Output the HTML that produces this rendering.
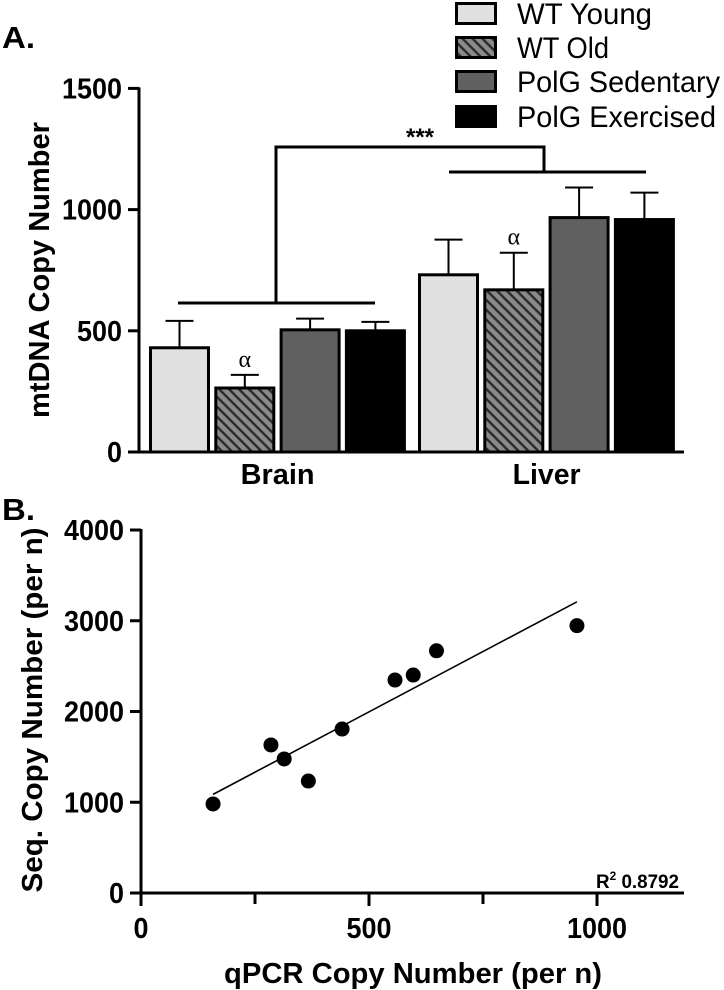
<!DOCTYPE html>
<html><head><meta charset="utf-8"><style>
html,body{margin:0;padding:0;background:#fff;}
svg{display:block;font-family:"Liberation Sans",sans-serif;}
</style></head><body>
<svg width="724" height="990">
<defs>
<pattern id="hatch" patternUnits="userSpaceOnUse" width="7" height="7" patternTransform="rotate(45)">
<rect width="7" height="7" fill="#8a8a8a"/><rect width="7" height="2.4" fill="#2a2a2a"/>
</pattern>
</defs>
<g id="panelA"></g>
<g id="panelB"></g>
</svg>
<script>
const groups = ["Brain","Liver"];
const seriesNames = ["WT Young","WT Old","PolG Sedentary","PolG Exercised"];
const brainMeans = [430,264,504,500];
const brainErr = [111,54,46,37];
const liverMeans = [731,669,967,959];
const liverErr = [145,153,124,111];
const yTicksA = [0,500,1000,1500];

const qpcr = [158,285,314,367,441,557,597,648,956];
const seqCopy = [981,1631,1477,1234,1807,2347,2402,2669,2946];
const xTicksB = [0,500,1000];
const yTicksB = [0,1000,2000,3000,4000];
const r2Label = "0.8792";

const NS="http://www.w3.org/2000/svg";
function mk(parent,tag,attrs,text){const e=document.createElementNS(NS,tag);for(const k in attrs)e.setAttribute(k,attrs[k]);if(text!==undefined)e.textContent=text;parent.appendChild(e);return e;}

// ---------- Panel A ----------
const A=document.getElementById('panelA');
const yA=v=>452-(v/500)*121.2;
const fills=["#e0e0e0","url(#hatch)","#606060","#000"];
const barW=61, step=65.3, groupStart=[149,418];
let t;
t=mk(A,'text',{x:2,y:48,'font-size':31,'font-weight':'bold',textLength:33,lengthAdjust:'spacingAndGlyphs'},'A.');

t=mk(A,'line',{x1:139,y1:yA(1500)-1,x2:139,y2:453.5,stroke:'#000','stroke-width':3});

t=mk(A,'line',{x1:137.5,y1:452,x2:684,y2:452,stroke:'#000','stroke-width':3});

yTicksA.forEach(v=>{
  let l=mk(A,'line',{x1:128,y1:yA(v),x2:139,y2:yA(v),stroke:'#000','stroke-width':3});
  
  const s=String(v);
  let tx=mk(A,'text',{x:122,y:yA(v)+10,'font-size':29,'font-weight':'bold','text-anchor':'end',textLength:s.length*15,lengthAdjust:'spacingAndGlyphs'},s);
  
});
t=mk(A,'text',{x:0,y:0,'font-size':29,'font-weight':'bold','text-anchor':'middle',transform:'translate(49,270) rotate(-90)',textLength:296,lengthAdjust:'spacingAndGlyphs'},'mtDNA Copy Number');

const means=[brainMeans,liverMeans], errs=[brainErr,liverErr];
groups.forEach((g,gi)=>{
  means[gi].forEach((m,i)=>{
    const x=groupStart[gi]+i*step;
    const e=errs[gi][i];
    let el=mk(A,'line',{x1:x+barW/2,y1:yA(m),x2:x+barW/2,y2:yA(m+e),stroke:'#000','stroke-width':2});
    
    el=mk(A,'line',{x1:x+barW/2-14,y1:yA(m+e),x2:x+barW/2+14,y2:yA(m+e),stroke:'#000','stroke-width':2});
    
    const r=mk(A,'rect',{x:x+1.5,y:yA(m),width:barW-3,height:452-yA(m),fill:fills[i],stroke:'#000','stroke-width':3});
    
    if(i===1){
      let a=mk(A,'text',{x:x+barW/2,y:yA(m+e)-8,'font-size':24,'text-anchor':'middle','font-family':'Liberation Serif, serif'},'α');
      
    }
  });
  let gl=mk(A,'text',{x:groupStart[gi]+2*step-2,y:484,'font-size':29,'font-weight':'bold','text-anchor':'middle',textLength:g==='Brain'?74:68,lengthAdjust:'spacingAndGlyphs'},g);
  
});
t=mk(A,'line',{x1:178,y1:303,x2:375,y2:303,stroke:'#000','stroke-width':3});

t=mk(A,'line',{x1:449,y1:172,x2:646,y2:172,stroke:'#000','stroke-width':3});

t=mk(A,'polyline',{points:'276,303 276,147 544,147 544,172',fill:'none',stroke:'#000','stroke-width':3});

t=mk(A,'text',{x:420,y:145,'font-size':24,'font-weight':'bold','text-anchor':'middle'},'***');

const legY=[2,36,70,105];
seriesNames.forEach((n,i)=>{
  let r=mk(A,'rect',{x:456.5,y:legY[i]+1.5,width:39,height:20,fill:fills[i],stroke:'#000','stroke-width':3});
  
  let tx=mk(A,'text',{x:517,y:legY[i]+22,'font-size':30,textLength:[135,92,203,199][i],lengthAdjust:'spacingAndGlyphs'},n);
  
});

// ---------- Panel B ----------
const B=document.getElementById('panelB');
const xB=v=>141+(v/500)*228;
const yB=v=>893-(v/1000)*90.75;
t=mk(B,'text',{x:2,y:520,'font-size':31,'font-weight':'bold',textLength:33,lengthAdjust:'spacingAndGlyphs'},'B.');

t=mk(B,'line',{x1:141,y1:yB(4000)-1,x2:141,y2:906,stroke:'#000','stroke-width':3});

t=mk(B,'line',{x1:130,y1:893,x2:684,y2:893,stroke:'#000','stroke-width':3});

yTicksB.forEach(v=>{
  let l=mk(B,'line',{x1:130,y1:yB(v),x2:141,y2:yB(v),stroke:'#000','stroke-width':3});
  
  const s=String(v);
  let tx=mk(B,'text',{x:124,y:yB(v)+10,'font-size':29,'font-weight':'bold','text-anchor':'end',textLength:s.length*15,lengthAdjust:'spacingAndGlyphs'},s);
  
});
[250,750].forEach(v=>{
  let l=mk(B,'line',{x1:xB(v),y1:893,x2:xB(v),y2:904,stroke:'#000','stroke-width':3});
  
});
xTicksB.forEach(v=>{
  let l=mk(B,'line',{x1:xB(v),y1:893,x2:xB(v),y2:906,stroke:'#000','stroke-width':3});
  
  const s=String(v);
  let tx=mk(B,'text',{x:xB(v),y:938,'font-size':29,'font-weight':'bold','text-anchor':'middle',textLength:s.length*15,lengthAdjust:'spacingAndGlyphs'},s);
  
});
t=mk(B,'text',{x:0,y:0,'font-size':29,'font-weight':'bold','text-anchor':'middle',transform:'translate(42,710) rotate(-90)',textLength:365,lengthAdjust:'spacingAndGlyphs'},'Seq. Copy Number (per n)');

t=mk(B,'text',{x:413,y:983,'font-size':29,'font-weight':'bold','text-anchor':'middle',textLength:378,lengthAdjust:'spacingAndGlyphs'},'qPCR Copy Number (per n)');

const n=qpcr.length;
const mx=qpcr.reduce((a,b)=>a+b)/n, my=seqCopy.reduce((a,b)=>a+b)/n;
let sxy=0,sxx=0;for(let i=0;i<n;i++){sxy+=(qpcr[i]-mx)*(seqCopy[i]-my);sxx+=(qpcr[i]-mx)**2;}
const slope=sxy/sxx, icpt=my-slope*mx;
const x0=Math.min(...qpcr), x1=Math.max(...qpcr);
t=mk(B,'line',{x1:xB(x0),y1:yB(icpt+slope*x0),x2:xB(x1),y2:yB(icpt+slope*x1),stroke:'#000','stroke-width':1.6});

qpcr.forEach((v,i)=>{
  let c=mk(B,'circle',{cx:xB(v),cy:yB(seqCopy[i]),r:7.5,fill:'#000'});
  
});
t=mk(B,'text',{x:596,y:888,'font-size':19,'font-weight':'bold',textLength:83,lengthAdjust:'spacingAndGlyphs'});

mk(t,'tspan',{},'R');mk(t,'tspan',{dy:-8,'font-size':12},'2');mk(t,'tspan',{dy:8},' '+r2Label);
</script>
</body></html>
